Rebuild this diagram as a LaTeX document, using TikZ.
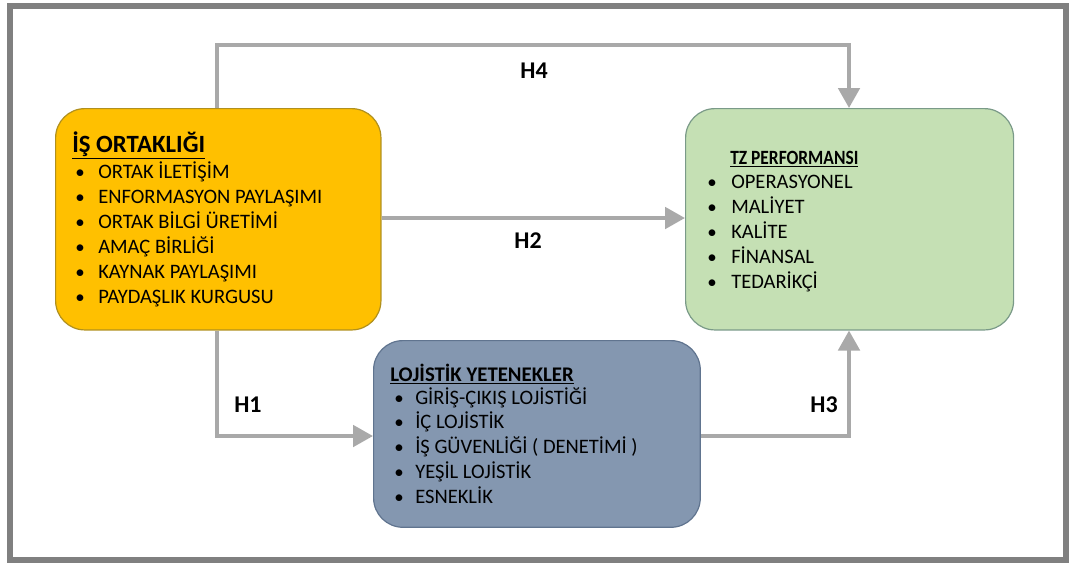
\documentclass[tikz,border=0pt]{standalone}
\usepackage{fontspec}
\setmainfont{Carlito}
\newfontfamily\narrowsans[FakeStretch=0.86]{Carlito}
\usetikzlibrary{arrows.meta}

\definecolor{partnerfill}{HTML}{FFC000}
\definecolor{partnerline}{HTML}{B0901E}
\definecolor{perffill}{HTML}{C5E0B4}
\definecolor{perfline}{HTML}{7A9A88}
\definecolor{logfill}{HTML}{8497B0}
\definecolor{logline}{HTML}{60748F}
\definecolor{linkgray}{HTML}{A9A9A9}
\definecolor{framegray}{HTML}{808080}

\tikzset{
  x=0.75pt, y=-0.75pt,
  panel/.style={draw, line width=0.9pt, rounded corners=22pt, inner sep=0pt},
  heading/.style={anchor=base west, inner sep=0pt, font=\bfseries\fontsize{15.6}{18}\selectfont},
  item/.style={anchor=base west, inner sep=0pt, font=\fontsize{15.4}{18}\selectfont},
  dot/.style={anchor=base west, inner sep=0pt, font=\fontsize{14.2}{17}\selectfont},
  link/.style={draw=linkgray, line width=3pt, -{Triangle[width=16pt,length=15pt]}},
  hlabel/.style={inner sep=0pt, font=\bfseries\fontsize{18}{20}\selectfont},
}

\begin{document}
\begin{tikzpicture}
  % canvas and frame
  \useasboundingbox (0,0) rectangle (1069,562);
  \draw[framegray, line width=4pt] (10,6) rectangle (1066,560);

  % the three panels
  \node[panel, fill=partnerfill, draw=partnerline, minimum width=244pt, minimum height=166pt, anchor=north west] (partner) at (55,108) {};
  \node[panel, fill=perffill, draw=perfline, minimum width=246pt, minimum height=166pt, anchor=north west] (perf) at (685,108) {};
  \node[panel, fill=logfill, draw=logline, minimum width=245pt, minimum height=140pt, anchor=north west] (logi) at (373,340) {};

  % İŞ ORTAKLIĞI
  \node[heading, font=\bfseries\fontsize{18.6}{21}\selectfont] (pt) at (72,152) {\underline{İŞ ORTAKLIĞI}};
  \foreach \t [count=\i] in {ORTAK İLETİŞİM, ENFORMASYON PAYLAŞIMI, ORTAK BİLGİ ÜRETİMİ, AMAÇ BİRLİĞİ, KAYNAK PAYLAŞIMI, PAYDAŞLIK KURGUSU}{
    \node[dot] (pb\i) at (75,{172+25*(\i-1)+6}) {\textbullet};
    \node[item] (pi\i) at (98,{172+25*(\i-1)+6}) {\t};
  }

  % TZ PERFORMANSI
  \node[heading, font=\narrowsans\bfseries\fontsize{15.2}{18}\selectfont] (ft) at (730,164) {\underline{TZ PERFORMANSI}};
  \foreach \t [count=\i] in {OPERASYONEL, MALİYET, KALİTE, FİNANSAL, TEDARİKÇİ}{
    \node[dot] (fb\i) at (707,{182+25*(\i-1)+6}) {\textbullet};
    \node[item] (fi\i) at (731,{182+25*(\i-1)+6}) {\t};
  }

  % LOJİSTİK YETENEKLER
  \node[heading] (lt) at (390,381) {\underline{LOJİSTİK YETENEKLER}};
  \foreach \t [count=\i] in {GİRİŞ-ÇIKIŞ LOJİSTİĞİ, İÇ LOJİSTİK, İŞ GÜVENLİĞİ ( DENETİMİ ), YEŞİL LOJİSTİK, ESNEKLİK}{
    \node[dot] (lb\i) at (394,{398+24.8*(\i-1)+6}) {\textbullet};
    \node[item] (li\i) at (415,{398+24.8*(\i-1)+6}) {\t};
  }

  % corner points of the routed links
  \coordinate (h4a) at (217,45);
  \coordinate (h4b) at (849,45);
  \coordinate (h1a) at (217,436);
  \coordinate (h3a) at (849,436);

  % hypothesis links
  \draw[link] (partner.north -| h4a) -- (h4a) -- (h4b) -- (perf.north -| h4b);
  \draw[link] (partner.east |- 0,218) -- (perf.west |- 0,218);
  \draw[link] (partner.south -| h1a) -- (h1a) -- (logi.west |- h1a);
  \draw[link] (logi.east |- h3a) -- (h3a) -- (perf.south -| h3a);

  % link labels
  \node[hlabel] (l4) at (534,71) {H4};
  \node[hlabel] (l2) at (528,241) {H2};
  \node[hlabel] (l1) at (248,405) {H1};
  \node[hlabel] (l3) at (824,405) {H3};
\end{tikzpicture}
\end{document}
